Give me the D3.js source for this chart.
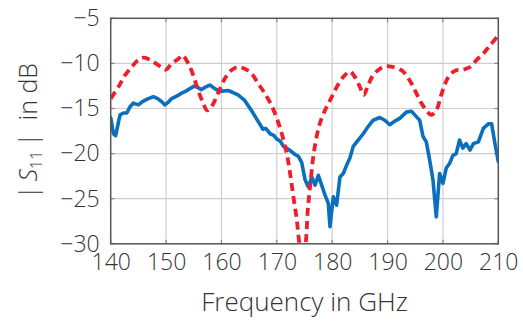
<!DOCTYPE html>
<html>
<head>
<meta charset="utf-8">
<script src="https://cdn.jsdelivr.net/npm/d3@7"></script>
<style>
  html, body { margin: 0; padding: 0; background: #fff; }
  svg text { font-family: "Open Sans", sans-serif; font-weight: 300; fill: #333; }
</style>
</head>
<body>
<svg id="chart" width="523" height="322"></svg>
<script>
// ---- data ----
const freqBlue = [140.0,140.5,140.9,141.4,141.7,142.3,142.9,143.5,144.1,145.0,145.8,146.8,147.7,148.5,149.3,149.8,150.4,151.0,152.0,152.8,153.5,154.3,155.2,156.4,157.2,157.9,158.8,159.7,161.2,162.0,163.0,164.2,165.4,166.4,167.0,167.5,168.0,168.8,169.5,170.0,170.6,171.2,172.0,172.7,173.3,173.9,174.5,175.1,175.7,176.3,176.9,177.5,178.1,178.7,179.3,179.6,180.2,180.8,181.4,182.0,182.6,183.2,183.8,184.7,185.6,186.5,187.4,188.6,189.5,190.4,191.3,192.2,193.4,194.3,195.2,195.8,196.4,197.0,197.6,198.2,198.8,199.4,200.0,200.6,201.2,201.8,202.4,203.0,203.6,204.2,204.9,205.5,206.4,207.3,208.2,208.8,209.4,210.0];
const s11Blue = [-16.0,-17.8,-18.0,-16.5,-15.7,-15.5,-15.5,-14.8,-14.4,-14.6,-14.2,-13.9,-13.7,-13.9,-14.3,-14.6,-14.3,-13.9,-13.6,-13.3,-13.1,-12.8,-12.5,-12.9,-12.6,-12.4,-12.8,-13.1,-13.0,-13.2,-13.5,-14.1,-15.2,-16.2,-16.8,-17.3,-17.2,-17.8,-18.0,-18.4,-18.6,-19.2,-19.5,-19.8,-20.1,-20.3,-21.0,-22.9,-23.7,-22.6,-23.5,-22.4,-23.5,-24.6,-25.5,-28.1,-24.8,-25.7,-22.6,-22.2,-21.3,-20.5,-19.2,-18.5,-17.8,-17.0,-16.3,-16.0,-16.3,-16.8,-16.4,-16.1,-15.4,-15.3,-15.9,-16.3,-18.1,-18.7,-20.7,-22.9,-27.0,-22.2,-23.3,-21.6,-21.1,-20.2,-20.0,-18.5,-19.4,-18.9,-19.6,-18.9,-18.7,-17.2,-16.7,-16.7,-18.9,-20.9];
const freqRed = [140.0,141.4,142.6,143.8,145.0,146.0,147.4,148.6,150.0,151.0,152.2,152.9,154.0,154.9,155.8,156.7,157.4,158.2,159.4,160.6,161.8,163.0,164.2,165.4,166.6,167.8,169.0,170.0,170.9,171.8,172.4,173.0,173.6,174.1,174.7,175.2,175.6,176.0,176.6,177.2,177.8,178.7,179.6,180.5,181.4,182.3,183.2,184.1,185.0,185.7,186.5,187.4,188.6,189.8,191.0,192.5,193.1,194.3,195.2,196.1,197.0,197.9,198.8,199.7,200.3,201.2,202.4,203.6,204.9,206.1,207.3,208.5,210.0];
const s11Red = [-13.9,-12.6,-11.3,-10.4,-9.6,-9.35,-9.7,-10.2,-10.7,-10.0,-9.5,-9.1,-10.0,-11.3,-13.0,-14.4,-15.2,-14.8,-13.3,-11.7,-10.75,-10.4,-10.6,-11.1,-12.2,-13.3,-14.6,-16.1,-17.8,-20.0,-22.2,-24.8,-27.3,-30.0,-31.5,-30.0,-26.2,-23.7,-20.3,-18.1,-16.6,-15.2,-14.1,-13.0,-12.0,-11.3,-10.9,-11.5,-12.6,-13.5,-12.4,-11.3,-10.6,-10.3,-10.4,-10.75,-11.1,-12.2,-13.3,-14.4,-15.2,-15.7,-15.2,-13.5,-12.4,-11.3,-10.75,-10.7,-10.4,-9.6,-8.9,-8.0,-6.9];
const xTicks = [140,150,160,170,180,190,200,210];
const yTicks = [-5,-10,-15,-20,-25,-30];

// ---- layout ----
const svg = d3.select("#chart");
const L = 110.7, R = 498.3, T = 18.3, B = 243.8;
const x = d3.scaleLinear().domain([140,210]).range([L,R]);
const y = d3.scaleLinear().domain([-30,-5]).range([B,T]);

svg.append("defs").append("clipPath").attr("id","clip")
  .append("rect").attr("x",L).attr("y",T).attr("width",R-L).attr("height",B-T);

// grid
const grid = svg.append("g");
grid.selectAll(".gx").data(xTicks.slice(1,-1)).join("line")
  .attr("x1",d=>x(d)).attr("x2",d=>x(d)).attr("y1",T).attr("y2",B)
  .attr("stroke","#cfcfcf").attr("stroke-width",1.2);
grid.selectAll(".gy").data(yTicks.slice(1,-1)).join("line")
  .attr("y1",d=>y(d)).attr("y2",d=>y(d)).attr("x1",L).attr("x2",R)
  .attr("stroke","#cfcfcf").attr("stroke-width",1.2);

// inward ticks on all 4 sides
const tk = 4;
const ticks = svg.append("g").attr("stroke","#888").attr("stroke-width",1.2);
xTicks.forEach(d => {
  ticks.append("line").attr("x1",x(d)).attr("x2",x(d)).attr("y1",B).attr("y2",B-tk);
  ticks.append("line").attr("x1",x(d)).attr("x2",x(d)).attr("y1",T).attr("y2",T+tk);
});
yTicks.forEach(d => {
  ticks.append("line").attr("y1",y(d)).attr("y2",y(d)).attr("x1",L).attr("x2",L+tk);
  ticks.append("line").attr("y1",y(d)).attr("y2",y(d)).attr("x1",R).attr("x2",R-tk);
});

// lines
const plot = svg.append("g").attr("clip-path","url(#clip)");
const lineBlue = d3.line().x((d,i)=>x(freqBlue[i])).y(d=>y(d));
plot.append("path").datum(s11Blue).attr("d",lineBlue)
  .attr("fill","none").attr("stroke","#0a6fbd").attr("stroke-width",3.6)
  .attr("stroke-linejoin","round").attr("stroke-linecap","round");
const lineRed = d3.line().x((d,i)=>x(freqRed[i])).y(d=>y(d)).curve(d3.curveCatmullRom.alpha(0.5));
plot.append("path").datum(s11Red).attr("d",lineRed)
  .attr("fill","none").attr("stroke","#ee1f2b").attr("stroke-width",3.8)
  .attr("stroke-dasharray","8,5");

// frame
svg.append("rect").attr("x",L).attr("y",T).attr("width",R-L).attr("height",B-T)
  .attr("fill","none").attr("stroke","#555").attr("stroke-width",1.5);

// axes labels
const xAxis = svg.append("g").attr("transform",`translate(0,${B})`)
  .call(d3.axisBottom(x).tickValues(xTicks).tickSize(0).tickPadding(10).tickFormat(d3.format("d")));
xAxis.select(".domain").remove();
xAxis.selectAll("text").attr("font-size",23).attr("fill","#333").attr("font-family","Open Sans").attr("font-weight",300);

const yAxis = svg.append("g").attr("transform",`translate(${L},0)`)
  .call(d3.axisLeft(y).tickValues(yTicks).tickSize(0).tickPadding(11).tickFormat(d => "\u2212" + Math.abs(d)));
yAxis.select(".domain").remove();
yAxis.selectAll("text").attr("font-size",23).attr("fill","#333").attr("font-family","Open Sans").attr("font-weight",300);

// titles
svg.append("text").attr("x",(L+R)/2).attr("y",311).attr("text-anchor","middle")
  .attr("font-size",26).text("Frequency in GHz");

const yt = svg.append("text").attr("transform",`translate(37,${(T+B)/2}) rotate(-90)`)
  .attr("text-anchor","middle").attr("font-size",25);
yt.append("tspan").text("|\u2009");
yt.append("tspan").attr("font-style","italic").text("S");
yt.append("tspan").attr("font-size",16).attr("dy",5).text("11");
yt.append("tspan").attr("dy",-5).text("\u2009|\u2002in dB");
</script>
</body>
</html>
